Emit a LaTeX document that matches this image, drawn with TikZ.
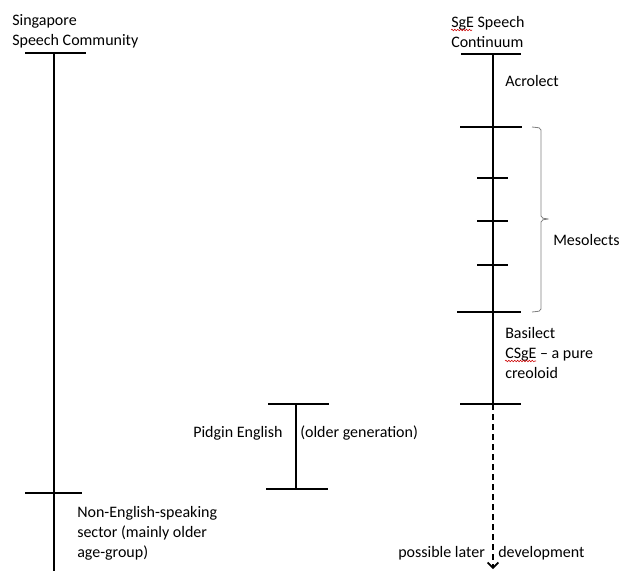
\documentclass[tikz,border=0pt]{standalone}
\usepackage{fontspec}
\setmainfont{Carlito}
\usetikzlibrary{arrows.meta,decorations.pathmorphing}

\tikzset{
  lbl/.style={anchor=west,inner sep=0pt,align=left,font=\fontsize{12}{15}\selectfont},
  bar/.style={line width=1.2pt},
  spell/.style={draw=red!80!black,line width=0.4pt,decorate,decoration={snake,amplitude=0.6pt,segment length=2.2pt}}
}

\begin{document}
\begin{tikzpicture}[x=0.75pt,y=-0.75pt]

\useasboundingbox (0,0) rectangle (619,571);

\coordinate (L0) at (54,53);
\coordinate (L1) at (54,493);
\coordinate (Lend) at (54,571);
\draw[bar] (25,53) -- (86,53);
\draw[bar] (L0) -- (Lend);
\draw[bar] (25,493) -- (82,493);

\coordinate (R0) at (493,54);
\coordinate (R1) at (493,127);
\coordinate (R5) at (493,312);
\coordinate (R6) at (493,404);
\coordinate (Rend) at (493,569);
\draw[bar] (461,54) -- (521,54);
\draw[bar] (R0) -- (R6);
\draw[bar] (460,127) -- (522,127);
\draw[bar] (477,178) -- (508,178);
\draw[bar] (477,221) -- (508,221);
\draw[bar] (477,265) -- (508,265);
\draw[bar] (457,312) -- (521,312);
\draw[bar] (460,404) -- (521,404);
\draw[line width=1.2pt,dash pattern=on 4.5pt off 3pt,-{Straight Barb[length=4pt,width=8pt]}] (R6) -- (Rend);

\draw[gray,line width=0.6pt,rounded corners=1.5pt] (532,127) -- (541,128) -- (541,218) -- (549,219) -- (541,220) -- (541,311) -- (532,312);

\coordinate (P0) at (296,404);
\coordinate (P1) at (296,489);
\draw[bar] (268,404) -- (329,404);
\draw[bar] (P0) -- (P1);
\draw[bar] (266,489) -- (328,489);

\node[lbl] (comm) at (12,31) {Singapore\\Speech Community};
\node[lbl] (cont) at (451,32) {SgE Speech\\Continuum};
\node[lbl] (acro) at (505,81) {Acrolect};
\node[lbl] (meso) at (553,240) {Mesolects};
\node[lbl] (basi) at (505,353) {Basilect\\CSgE -- a pure\\creoloid};
\node[lbl] (pidg) at (193,433) {Pidgin English};
\node[lbl] (oldr) at (300,433) {(older generation)};
\node[lbl] (nones) at (77,533) {Non-English-speaking\\sector (mainly older\\age-group)};
\node[lbl] (poss) at (398,553) {possible later};
\node[lbl] (devl) at (498,553) {development};

\draw[spell] (451,30) -- (472,30);
\draw[spell] (505,361) -- (536,361);

\end{tikzpicture}
\end{document}
